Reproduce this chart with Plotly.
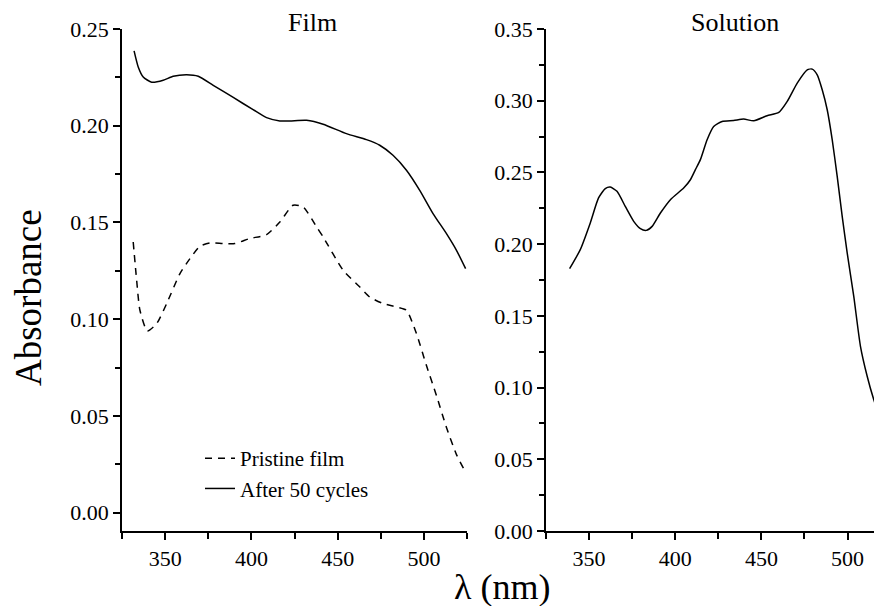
import plotly.graph_objects as go

# Film panel: pristine film (dashed)
film_pristine_x = [331.5, 333.5, 335.4, 339.7, 345.1, 350.9, 358.6, 364.4, 370.2, 376.0, 383.7, 390.4,
                   399.1, 408.8, 416.5, 424.2, 430.0, 437.8, 441.6, 453.2, 462.9, 468.6, 476.3, 484.1,
                   489.9, 495.7, 501.5, 507.3, 513.1, 518.9, 522.9]
film_pristine_y = [0.1399, 0.1201, 0.1046, 0.0939, 0.0977, 0.1081, 0.1236, 0.1313, 0.1377, 0.1394, 0.1391, 0.1391,
                   0.1417, 0.1437, 0.1502, 0.1589, 0.1580, 0.1477, 0.1425, 0.1253, 0.1166, 0.1115, 0.1081, 0.1063,
                   0.1046, 0.0925, 0.0760, 0.0605, 0.0440, 0.0300, 0.0230]

# Film panel: after 50 cycles (solid)
film_cycled_x = [332.0, 334.4, 337.3, 342.2, 348.9, 354.7, 362.5, 369.2, 377.9, 389.5, 401.0, 408.8,
                 416.5, 422.3, 432.0, 441.6, 455.1, 466.7, 474.4, 482.1, 489.9, 497.6, 505.3, 513.1,
                 518.9, 524.2]
film_cycled_y = [0.2387, 0.2304, 0.2252, 0.2225, 0.2235, 0.2256, 0.2264, 0.2256, 0.2209, 0.2146, 0.2083, 0.2042,
                 0.2025, 0.2025, 0.2028, 0.2008, 0.1959, 0.1928, 0.1899, 0.1847, 0.1770, 0.1666, 0.1546, 0.1442,
                 0.1356, 0.1261]

# Solution panel
sol_x = [338.7, 344.9, 350.7, 355.5, 359.4, 362.3, 366.2, 371.0, 375.9, 379.8, 383.2, 386.6, 391.4,
         397.2, 404.9, 408.8, 411.7, 414.6, 418.5, 422.3, 427.2, 433.9, 439.7, 445.6, 453.3, 460.1,
         465.0, 470.8, 476.6, 479.5, 482.4, 485.3, 488.2, 491.1, 494.0, 496.9, 499.8, 503.6, 507.5,
         511.4, 515.2, 520.0]
sol_y = [0.1829, 0.1962, 0.2148, 0.2322, 0.2387, 0.2398, 0.2368, 0.2263, 0.2159, 0.2108, 0.2096, 0.2124, 0.2217,
         0.2310, 0.2391, 0.2449, 0.2519, 0.2589, 0.2728, 0.2820, 0.2855, 0.2862, 0.2872, 0.2860, 0.2895, 0.2918,
         0.2995, 0.3123, 0.3215, 0.3220, 0.3180, 0.3076, 0.2937, 0.2728, 0.2472, 0.2194, 0.1939, 0.1637, 0.1288,
         0.1079, 0.0917, 0.0755]

FONT = "Liberation Serif, Times New Roman, serif"
# page body has an 8px margin; figure is sized/placed to compensate
OFF = 8
W, H = 882 - OFF, 606 - OFF
TOP, BOT = 29 - OFF, 531 - OFF
PH = BOT - TOP


def px(x):
    return (x - OFF) / W


def py(y):
    return (BOT - (y - OFF)) / PH


fig = go.Figure()
fig.add_trace(go.Scatter(x=film_pristine_x, y=film_pristine_y, mode="lines", name="Pristine film",
                         line=dict(color="black", width=1.5, dash="7px,6px", shape="spline", smoothing=0.6),
                         xaxis="x", yaxis="y"))
fig.add_trace(go.Scatter(x=film_cycled_x, y=film_cycled_y, mode="lines", name="After 50 cycles",
                         line=dict(color="black", width=1.5, shape="spline", smoothing=0.6),
                         xaxis="x", yaxis="y"))
fig.add_trace(go.Scatter(x=sol_x, y=sol_y, mode="lines", name="Solution", showlegend=False,
                         line=dict(color="black", width=1.5, shape="spline", smoothing=0.6),
                         xaxis="x2", yaxis="y2"))

axis_common = dict(showline=True, linecolor="black", linewidth=1.5, mirror=False,
                   ticks="outside", ticklen=7, tickwidth=1.5, tickcolor="black",
                   showgrid=False, zeroline=False,
                   tickfont=dict(family=FONT, size=22, color="black"))

fig.update_layout(
    width=W, height=H,
    margin=dict(l=0, r=0, t=TOP, b=H - BOT),
    plot_bgcolor="white", paper_bgcolor="white",
    font=dict(family=FONT, color="black"),
    xaxis=dict(domain=[px(122), px(467)], range=[325, 525], tick0=350, dtick=50,
               minor=dict(ticks="outside", dtick=25, tick0=325, ticklen=6, tickwidth=1.5, tickcolor="black"),
               anchor="y", **axis_common),
    yaxis=dict(domain=[0, 1], range=[-0.0095, 0.25], tick0=0, dtick=0.05, tickformat=".2f",
               minor=dict(ticks="outside", dtick=0.025, tick0=0, ticklen=5, tickwidth=1.5, tickcolor="black"),
               anchor="x", **axis_common),
    xaxis2=dict(domain=[px(546), 1.0], range=[325, 520], tick0=350, dtick=50,
                minor=dict(ticks="outside", dtick=25, tick0=325, ticklen=6, tickwidth=1.5, tickcolor="black"),
                anchor="y2", **axis_common),
    yaxis2=dict(domain=[0, 1], range=[0, 0.35], tick0=0, dtick=0.05, tickformat=".2f",
                minor=dict(ticks="outside", dtick=0.025, tick0=0, ticklen=5, tickwidth=1.5, tickcolor="black"),
                anchor="x2", **axis_common),
    showlegend=True,
    legend=dict(x=px(200), y=py(438), xanchor="left", yanchor="top",
                bgcolor="rgba(0,0,0,0)", borderwidth=0,
                font=dict(family=FONT, size=21, color="black"),
                tracegroupgap=0),
    annotations=[
        dict(text="Film", x=px(312), y=py(22), xref="paper", yref="paper", showarrow=False,
             xanchor="center", yanchor="middle", font=dict(family=FONT, size=26, color="black")),
        dict(text="Solution", x=px(735), y=py(22), xref="paper", yref="paper", showarrow=False,
             xanchor="center", yanchor="middle", font=dict(family=FONT, size=26, color="black")),
        dict(text="Absorbance", x=px(28), y=py(298), xref="paper", yref="paper", showarrow=False,
             textangle=-90, xanchor="center", yanchor="middle",
             font=dict(family=FONT, size=37, color="black")),
        dict(text="λ (nm)", x=px(502), y=py(587), xref="paper", yref="paper", showarrow=False,
             xanchor="center", yanchor="middle", font=dict(family=FONT, size=36, color="black")),
    ],
)

fig.write_html("out.html")
